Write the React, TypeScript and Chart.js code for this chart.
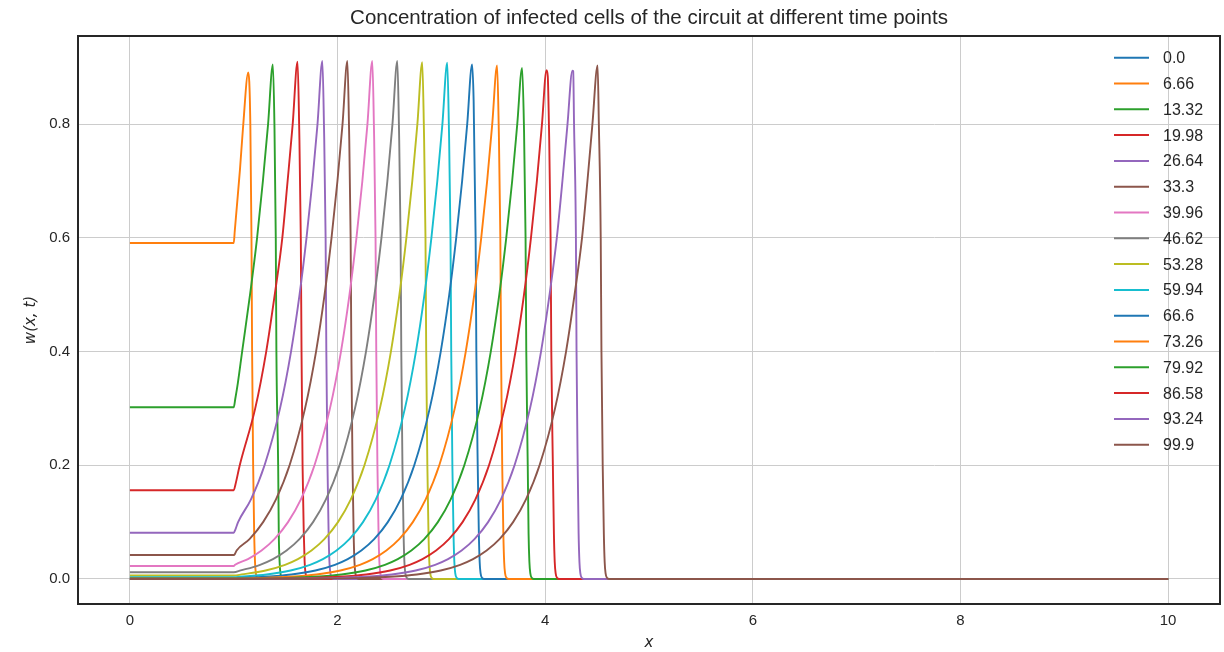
import React, { useEffect, useRef } from 'react';
import { Chart, registerables } from 'chart.js';

Chart.register(...registerables);

const chartTitle = 'Concentration of infected cells of the circuit at different time points';
const xAxisLabel = 'x';
const yAxisLabel = 'w(x, t)';

const timeLabels = ['0.0', '6.66', '13.32', '19.98', '26.64', '33.3', '39.96', '46.62', '53.28', '59.94', '66.6', '73.26', '79.92', '86.58', '93.24', '99.9'];
const lineColors = ['#1f77b4', '#ff7f0e', '#2ca02c', '#d62728', '#9467bd', '#8c564b', '#e377c2', '#7f7f7f', '#bcbd22', '#17becf', '#1f77b4', '#ff7f0e', '#2ca02c', '#d62728', '#9467bd', '#8c564b'];

const xTickValues = [0, 2, 4, 6, 8, 10];
const yTickValues = [0, 0.2, 0.4, 0.6, 0.8];

// t = 0.0
const x00 = [0, 10];
const w00 = [0, 0];
// t = 6.66
const x01 = [0, 1, 1.01, 1.03, 1.06, 1.09, 1.14, 1.16, 1.171, 1.177, 1.187, 1.197, 1.205, 1.213, 1.225, 1.245, 10];
const w01 = [0.591, 0.591, 0.612, 0.655, 0.72, 0.795, 0.891, 0.8, 0.6, 0.4, 0.2, 0.08, 0.03, 0.01, 0.002, 0, 0];
// t = 13.32
const x02 = [0, 1, 1.015, 1.04, 1.081, 1.157, 1.225, 1.281, 1.331, 1.377, 1.392, 1.405, 1.411, 1.428, 1.434, 1.442, 1.45, 1.462, 1.48, 10];
const w02 = [0.302, 0.302, 0.317, 0.345, 0.4, 0.5, 0.6, 0.7, 0.8, 0.905, 0.8, 0.6, 0.4, 0.2, 0.08, 0.03, 0.01, 0.002, 0, 0];
// t = 19.98
const x03 = [0, 1, 1.015, 1.058, 1.207, 1.313, 1.395, 1.468, 1.519, 1.568, 1.615, 1.63, 1.646, 1.653, 1.663, 1.675, 1.683, 1.692, 1.705, 1.725, 10];
const w03 = [0.156, 0.156, 0.165, 0.2, 0.3, 0.4, 0.5, 0.6, 0.7, 0.8, 0.91, 0.8, 0.6, 0.4, 0.2, 0.08, 0.03, 0.01, 0.002, 0, 0];
// t = 26.64
const x04 = [0, 1, 1.015, 1.042, 1.166, 1.297, 1.446, 1.552, 1.634, 1.701, 1.758, 1.807, 1.854, 1.869, 1.885, 1.892, 1.903, 1.914, 1.922, 1.931, 1.944, 1.964, 10];
const w04 = [0.0814, 0.0814, 0.0865, 0.1, 0.14, 0.2, 0.3, 0.4, 0.5, 0.6, 0.7, 0.8, 0.911, 0.8, 0.6, 0.4, 0.2, 0.08, 0.03, 0.01, 0.002, 0, 0];
// t = 33.3
const x05 = [0, 1, 1.012, 1.028, 1.152, 1.283, 1.407, 1.538, 1.687, 1.793, 1.875, 1.942, 1.999, 2.048, 2.095, 2.11, 2.126, 2.133, 2.144, 2.155, 2.163, 2.172, 2.185, 2.205, 10];
const w05 = [0.0422, 0.0422, 0.0442, 0.05, 0.07, 0.1, 0.14, 0.2, 0.3, 0.4, 0.5, 0.6, 0.7, 0.8, 0.911, 0.8, 0.6, 0.4, 0.2, 0.08, 0.03, 0.01, 0.002, 0, 0];
// t = 39.96
const x06 = [0, 1, 1.013, 1.137, 1.268, 1.392, 1.523, 1.647, 1.778, 1.927, 2.033, 2.115, 2.182, 2.239, 2.288, 2.335, 2.35, 2.366, 2.373, 2.384, 2.395, 2.403, 2.412, 2.425, 2.445, 10];
const w06 = [0.0229, 0.0229, 0.025, 0.035, 0.05, 0.07, 0.1, 0.14, 0.2, 0.3, 0.4, 0.5, 0.6, 0.7, 0.8, 0.911, 0.8, 0.6, 0.4, 0.2, 0.08, 0.03, 0.01, 0.002, 0, 0];
// t = 46.62
const x07 = [0, 1, 1.067, 1.254, 1.378, 1.509, 1.633, 1.764, 1.888, 2.019, 2.168, 2.274, 2.356, 2.423, 2.48, 2.529, 2.576, 2.591, 2.607, 2.614, 2.625, 2.636, 2.644, 2.653, 2.666, 2.686, 10];
const w07 = [0.0118, 0.0118, 0.015, 0.025, 0.035, 0.05, 0.07, 0.1, 0.14, 0.2, 0.3, 0.4, 0.5, 0.6, 0.7, 0.8, 0.911, 0.8, 0.6, 0.4, 0.2, 0.08, 0.03, 0.01, 0.002, 0, 0];
// t = 53.28
const x08 = [0, 1, 1.076, 1.307, 1.494, 1.618, 1.749, 1.873, 2.004, 2.128, 2.259, 2.408, 2.514, 2.596, 2.663, 2.72, 2.769, 2.816, 2.831, 2.847, 2.854, 2.865, 2.876, 2.884, 2.893, 2.906, 2.926, 10];
const w08 = [0.0061, 0.0061, 0.008, 0.015, 0.025, 0.035, 0.05, 0.07, 0.1, 0.14, 0.2, 0.3, 0.4, 0.5, 0.6, 0.7, 0.8, 0.909, 0.8, 0.6, 0.4, 0.2, 0.08, 0.03, 0.01, 0.002, 0, 0];
// t = 59.94
const x09 = [0, 1, 1.062, 1.317, 1.548, 1.735, 1.859, 1.99, 2.114, 2.245, 2.369, 2.5, 2.649, 2.755, 2.837, 2.904, 2.961, 3.01, 3.057, 3.072, 3.088, 3.095, 3.106, 3.117, 3.125, 3.134, 3.147, 3.167, 10];
const w09 = [0.0032, 0.0032, 0.004, 0.008, 0.015, 0.025, 0.035, 0.05, 0.07, 0.1, 0.14, 0.2, 0.3, 0.4, 0.5, 0.6, 0.7, 0.8, 0.908, 0.8, 0.6, 0.4, 0.2, 0.08, 0.03, 0.01, 0.002, 0, 0];
// t = 66.6
const x10 = [0, 1, 1.046, 1.301, 1.556, 1.787, 1.974, 2.098, 2.229, 2.353, 2.484, 2.608, 2.739, 2.888, 2.994, 3.076, 3.143, 3.2, 3.249, 3.296, 3.311, 3.33, 3.337, 3.35, 3.361, 3.369, 3.378, 3.391, 3.411, 10];
const w10 = [0.0017, 0.0017, 0.002, 0.004, 0.008, 0.015, 0.025, 0.035, 0.05, 0.07, 0.1, 0.14, 0.2, 0.3, 0.4, 0.5, 0.6, 0.7, 0.8, 0.905, 0.84, 0.6, 0.4, 0.2, 0.08, 0.03, 0.01, 0.002, 0, 0];
// t = 73.26
const x11 = [0, 1, 1.287, 1.542, 1.797, 2.028, 2.215, 2.339, 2.47, 2.594, 2.725, 2.849, 2.98, 3.129, 3.235, 3.317, 3.384, 3.441, 3.49, 3.537, 3.552, 3.568, 3.575, 3.586, 3.597, 3.605, 3.614, 3.627, 3.647, 10];
const w11 = [0.0009, 0.0009, 0.002, 0.004, 0.008, 0.015, 0.025, 0.035, 0.05, 0.07, 0.1, 0.14, 0.2, 0.3, 0.4, 0.5, 0.6, 0.7, 0.8, 0.903, 0.8, 0.6, 0.4, 0.2, 0.08, 0.03, 0.01, 0.002, 0, 0];
// t = 79.92
const x12 = [0, 1, 1.273, 1.528, 1.783, 2.038, 2.269, 2.456, 2.58, 2.711, 2.835, 2.966, 3.09, 3.221, 3.37, 3.476, 3.558, 3.625, 3.682, 3.731, 3.778, 3.795, 3.811, 3.818, 3.832, 3.84, 3.848, 3.857, 3.87, 3.89, 10];
const w12 = [0.00047, 0.00047, 0.001, 0.002, 0.004, 0.008, 0.015, 0.025, 0.035, 0.05, 0.07, 0.1, 0.14, 0.2, 0.3, 0.4, 0.5, 0.6, 0.7, 0.8, 0.899, 0.8, 0.6, 0.4, 0.2, 0.08, 0.03, 0.01, 0.002, 0, 0];
// t = 86.58
const x13 = [0, 1, 1.256, 1.511, 1.766, 2.021, 2.276, 2.507, 2.694, 2.818, 2.949, 3.073, 3.204, 3.328, 3.459, 3.608, 3.714, 3.796, 3.863, 3.92, 3.969, 4.013, 4.025, 4.036, 4.052, 4.059, 4.074, 4.084, 4.092, 4.101, 4.114, 4.134, 10];
const w13 = [0.00025, 0.00025, 0.0005, 0.001, 0.002, 0.004, 0.008, 0.015, 0.025, 0.035, 0.05, 0.07, 0.1, 0.14, 0.2, 0.3, 0.4, 0.5, 0.6, 0.7, 0.8, 0.895, 0.884, 0.8, 0.6, 0.4, 0.2, 0.08, 0.03, 0.01, 0.002, 0, 0];
// t = 93.24
const x14 = [0, 1, 1.502, 1.757, 2.012, 2.267, 2.522, 2.753, 2.94, 3.064, 3.195, 3.319, 3.45, 3.574, 3.705, 3.854, 3.96, 4.042, 4.112, 4.166, 4.215, 4.262, 4.27, 4.278, 4.296, 4.302, 4.313, 4.322, 4.33, 4.339, 4.352, 4.372, 10];
const w14 = [0.00013, 0.00013, 0.0005, 0.001, 0.002, 0.004, 0.008, 0.015, 0.025, 0.035, 0.05, 0.07, 0.1, 0.14, 0.2, 0.3, 0.4, 0.5, 0.6, 0.7, 0.8, 0.894, 0.893, 0.8, 0.6, 0.4, 0.2, 0.08, 0.03, 0.01, 0.002, 0, 0];
// t = 99.9
const x15 = [0, 1, 1.411, 1.743, 1.998, 2.253, 2.508, 2.763, 2.994, 3.181, 3.305, 3.436, 3.56, 3.691, 3.815, 3.946, 4.095, 4.201, 4.283, 4.355, 4.407, 4.455, 4.505, 4.517, 4.535, 4.542, 4.554, 4.565, 4.573, 4.582, 4.595, 4.615, 10];
const w15 = [0.00007, 0.00007, 0.0002, 0.0005, 0.001, 0.002, 0.004, 0.008, 0.015, 0.025, 0.035, 0.05, 0.07, 0.1, 0.14, 0.2, 0.3, 0.4, 0.5, 0.6, 0.7, 0.8, 0.903, 0.8, 0.6, 0.4, 0.2, 0.08, 0.03, 0.01, 0.002, 0, 0];

const seriesX = [x00, x01, x02, x03, x04, x05, x06, x07, x08, x09, x10, x11, x12, x13, x14, x15];
const seriesW = [w00, w01, w02, w03, w04, w05, w06, w07, w08, w09, w10, w11, w12, w13, w14, w15];

const W = 1224;
const H = 652;
const SANS = '"Liberation Sans", Arial, sans-serif';
const TEXT = '#262626';

const decorPlugin = {
  id: 'decor',
  afterDraw(chart: any) {
    const { ctx, chartArea } = chart;
    const { left, right, top, bottom } = chartArea;
    ctx.save();
    // frame
    ctx.strokeStyle = '#262626';
    ctx.lineWidth = 2;
    ctx.strokeRect(left, top, right - left, bottom - top);
    // title
    ctx.fillStyle = TEXT;
    ctx.font = `20.5px ${SANS}`;
    ctx.textAlign = 'center';
    ctx.textBaseline = 'middle';
    ctx.fillText(chartTitle, (left + right) / 2, 18);
    // axis labels
    ctx.font = `italic 15px "DejaVu Sans", sans-serif`;
    ctx.fillText(xAxisLabel, (left + right) / 2, 643);
    ctx.save();
    ctx.translate(31, (top + bottom) / 2);
    ctx.rotate(-Math.PI / 2);
    ctx.fillText(yAxisLabel, 0, 0);
    ctx.restore();
    // legend
    ctx.font = `16px ${SANS}`;
    ctx.textAlign = 'left';
    chart.data.datasets.forEach((ds: any, i: number) => {
      const y = 57.7 + i * 25.8;
      ctx.strokeStyle = ds.borderColor;
      ctx.lineWidth = 2;
      ctx.beginPath();
      ctx.moveTo(1114, y);
      ctx.lineTo(1149, y);
      ctx.stroke();
      ctx.fillStyle = TEXT;
      ctx.fillText(ds.label, 1163, y + 1);
    });
    ctx.restore();
  },
};

export default function App() {
  const canvasRef = useRef<HTMLCanvasElement | null>(null);

  useEffect(() => {
    document.body.style.margin = '0';
    const canvas = canvasRef.current;
    if (!canvas) return;
    const datasets = seriesX.map((xs, i) => ({
      label: timeLabels[i],
      data: xs.map((x, j) => ({ x, y: seriesW[i][j] })),
      borderColor: lineColors[i],
      backgroundColor: lineColors[i],
      borderWidth: 1.9,
      pointRadius: 0,
      cubicInterpolationMode: 'monotone' as const,
      fill: false,
      order: seriesX.length - 1 - i,
    }));
    const chart = new Chart(canvas, {
      type: 'line',
      data: { datasets },
      options: {
        responsive: false,
        animation: false,
        devicePixelRatio: 1,
        layout: { padding: { top: 36, right: 4, left: 0, bottom: 0 } },
        plugins: {
          legend: { display: false },
          title: { display: false },
          tooltip: { enabled: false },
        },
        scales: {
          x: {
            type: 'linear',
            min: -0.5,
            max: 10.5,
            afterBuildTicks: (s: any) => {
              s.ticks = xTickValues.map((v) => ({ value: v }));
            },
            afterFit: (s: any) => {
              s.height = 48;
            },
            grid: { color: '#cccccc', lineWidth: 1, drawTicks: false },
            border: { display: false },
            ticks: {
              padding: 8,
              color: TEXT,
              font: { family: SANS, size: 15 },
              callback: (v: any) => String(v),
            },
          },
          y: {
            type: 'linear',
            min: -0.044,
            max: 0.955,
            afterBuildTicks: (s: any) => {
              s.ticks = yTickValues.map((v) => ({ value: v }));
            },
            afterFit: (s: any) => {
              s.width = 78;
            },
            grid: { color: '#cccccc', lineWidth: 1, drawTicks: false },
            border: { display: false },
            ticks: {
              padding: 8,
              color: TEXT,
              font: { family: SANS, size: 15 },
              callback: (v: any) => Number(v).toFixed(1),
            },
          },
        },
      },
      plugins: [decorPlugin],
    });
    return () => chart.destroy();
  }, []);

  return (
    <div style={{ position: 'absolute', left: 0, top: 0, width: W, height: H, background: '#fff' }}>
      <canvas ref={canvasRef} width={W} height={H} />
    </div>
  );
}
